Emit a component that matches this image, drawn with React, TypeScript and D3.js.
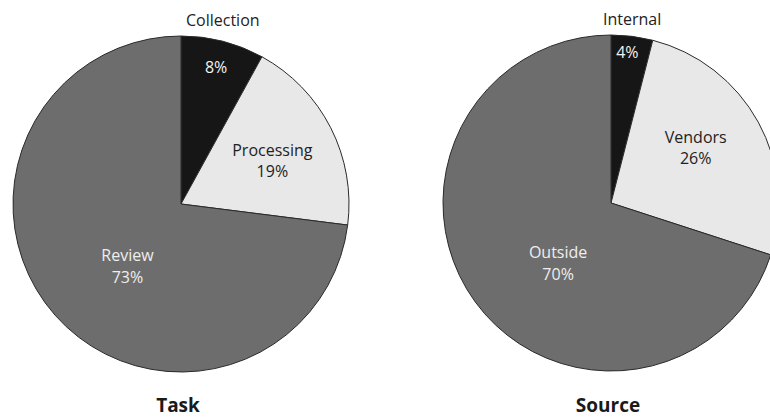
import React from "react";
import * as d3 from "d3";

// Share of work by task
const taskNames = ["Collection", "Processing", "Review"];
const taskValues = [8, 19, 73];

// Share of work by source
const sourceNames = ["Internal", "Vendors", "Outside"];
const sourceValues = [4, 26, 70];

const sliceColors = ["#161616", "#e8e8e8", "#6d6d6d"];
const textColors = ["#f2f2f2", "#222222", "#eeeeee"];

const WIDTH = 770;
const HEIGHT = 418;
const RADIUS = 168;
const FONT = "'Open Sans', 'Noto Sans', sans-serif";
const LABEL_SIZE = 16;

type LabelSpec = { factor: number; shiftDeg: number; withName: boolean };

type PieProps = {
  cx: number;
  cy: number;
  names: string[];
  values: number[];
  title: string;
  labels: LabelSpec[];
};

function Pie({ cx, cy, names, values, title, labels }: PieProps) {
  const pie = d3
    .pie<number>()
    .sort(null)
    .value((d) => d);
  const arcs = pie(values);
  const arc = d3.arc<d3.PieArcDatum<number>>().innerRadius(0).outerRadius(RADIUS);

  // first slice's name sits just above the rim, over the slice's middle
  const first = arcs[0];
  const firstMid = (first.startAngle + first.endAngle) / 2;

  return (
    <g transform={`translate(${cx},${cy})`}>
      {arcs.map((a, i) => (
        <path
          key={`s${i}`}
          d={arc(a) || ""}
          fill={sliceColors[i]}
          stroke="#2a2a2a"
          strokeWidth={1}
        />
      ))}
      {arcs.map((a, i) => {
        const spec = labels[i];
        const ang = (a.startAngle + a.endAngle) / 2 + (spec.shiftDeg * Math.PI) / 180;
        const r = RADIUS * spec.factor;
        const x = Math.sin(ang) * r;
        const y = -Math.cos(ang) * r;
        const pct = `${values[i]}%`;
        return (
          <g
            key={`l${i}`}
            fontFamily={FONT}
            fontSize={LABEL_SIZE}
            fill={textColors[i]}
            textAnchor="middle"
          >
            {spec.withName ? (
              <>
                <text x={x} y={y - 5.5}>{names[i]}</text>
                <text x={x} y={y + 16}>{pct}</text>
              </>
            ) : (
              <text x={x} y={y + 5.5}>{pct}</text>
            )}
          </g>
        );
      })}
      <text
        x={Math.sin(firstMid) * RADIUS}
        y={-RADIUS - 10.5}
        fontFamily={FONT}
        fontSize={LABEL_SIZE}
        fill="#222"
        textAnchor="middle"
      >
        {names[0]}
      </text>
      <text
        x={-3}
        y={412 - cy}
        fontFamily={FONT}
        fontSize={19}
        fontWeight={700}
        fill="#1a1a1a"
        textAnchor="middle"
      >
        {title}
      </text>
    </g>
  );
}

export default function App() {
  return (
    <svg
      width={WIDTH}
      height={HEIGHT}
      style={{ position: "absolute", left: 0, top: 0, background: "#ffffff" }}
    >
      <Pie
        cx={181}
        cy={204}
        names={taskNames}
        values={taskValues}
        title="Task"
        labels={[
          { factor: 0.84, shiftDeg: 0, withName: false },
          { factor: 0.6, shiftDeg: 2, withName: true },
          { factor: 0.49, shiftDeg: -8, withName: true },
        ]}
      />
      <Pie
        cx={611}
        cy={203}
        names={sourceNames}
        values={sourceValues}
        title="Source"
        labels={[
          { factor: 0.9, shiftDeg: -1, withName: false },
          { factor: 0.6, shiftDeg: -4, withName: true },
          { factor: 0.48, shiftDeg: -13, withName: true },
        ]}
      />
    </svg>
  );
}
